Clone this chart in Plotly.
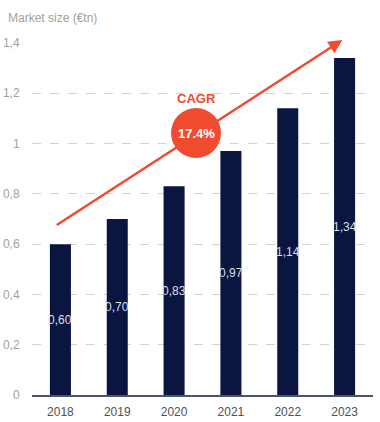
import plotly.graph_objects as go

years = ["2018", "2019", "2020", "2021", "2022", "2023"]
market_size = [0.60, 0.70, 0.83, 0.97, 1.14, 1.34]
y_ticks = [0, 0.2, 0.4, 0.6, 0.8, 1.0, 1.2, 1.4]
cagr_label = "17.4%"
title_text = "Market size (€tn)"

NAVY = "#0a1640"
RED = "#f04a2f"
FONT = "Liberation Sans, Arial, sans-serif"

fig = go.Figure()
fig.add_trace(go.Bar(
    x=years, y=market_size, width=0.37,
    marker=dict(color=NAVY, line=dict(width=0)),
    hoverinfo="skip",
))

# value labels at mid-height of each bar (category index positions)
for i, v in enumerate(market_size):
    fig.add_annotation(
        x=i, y=v / 2, text=f"{v:.2f}".replace(".", ","), showarrow=False,
        font=dict(family=FONT, size=12, color="#dadeec"),
        xanchor="center", yanchor="middle",
    )

# CAGR arrow
fig.add_annotation(
    x=4.96, y=1.412, ax=-0.09, ay=0.672, xref="x", yref="y", axref="x", ayref="y",
    showarrow=True, arrowhead=2, arrowsize=1.1, arrowwidth=2.5, arrowcolor=RED, text="",
)

# circle
cx, cy = 2.386, 1.042
fig.add_shape(
    type="circle", xref="x", yref="y", xsizemode="pixel", ysizemode="pixel",
    xanchor=cx, yanchor=cy, x0=-25, x1=25, y0=-25, y1=25,
    fillcolor=RED, line=dict(width=0), layer="above",
)
fig.add_annotation(
    x=cx, y=cy, text=f"<b>{cagr_label}</b>", showarrow=False,
    font=dict(family=FONT, size=13, color="white"),
)
fig.add_annotation(
    x=cx, y=cy, yshift=35, text="<b>CAGR</b>", showarrow=False,
    font=dict(family=FONT, size=13, color=RED),
)

fig.update_layout(
    width=380, height=422,
    margin=dict(l=32, r=7, t=43, b=27, autoexpand=False),
    plot_bgcolor="white", paper_bgcolor="white",
    separators=",.",
    showlegend=False,
    font=dict(family=FONT),
    title=dict(text=title_text, x=0.021, xanchor="left", y=0.957, yanchor="middle",
               font=dict(family=FONT, size=12, color="#a0a0a0")),
    xaxis=dict(
        type="category", showline=True, linecolor="#4a5570", linewidth=2,
        showgrid=False, ticks="outside", ticklen=5, tickcolor="rgba(0,0,0,0)",
        tickfont=dict(family=FONT, size=12, color="#505050"),
        range=[-0.5, 5.5],
    ),
    yaxis=dict(
        range=[0, 1.4], tickvals=y_ticks, showgrid=True, gridcolor="#d3d3d3",
        griddash="dash", gridwidth=1, zeroline=False, showline=False,
        ticks="outside", ticklen=9, tickcolor="rgba(0,0,0,0)",
        tickfont=dict(family=FONT, size=12, color="#a0a0a0"),
    ),
)

fig.write_html(
    "out.html",
    config={"displayModeBar": False},
    post_script="document.body.style.margin='0';document.body.style.overflow='hidden';",
)
